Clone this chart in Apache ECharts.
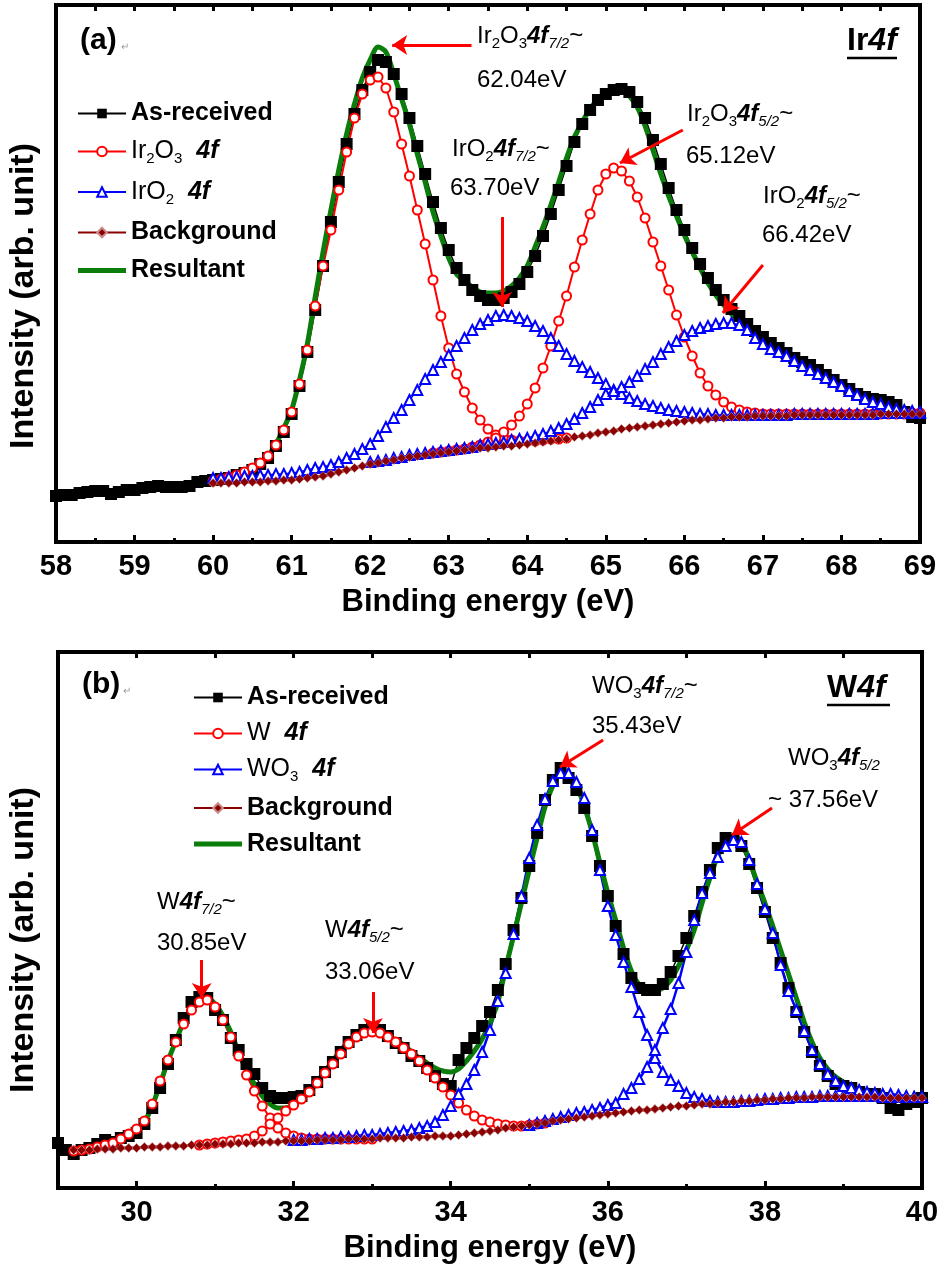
<!DOCTYPE html>
<html>
<head>
<meta charset="utf-8">
<title>XPS Ir 4f / W 4f</title>
<script src="https://cdn.jsdelivr.net/npm/echarts@6.0.0/dist/echarts.min.js"></script>
<style>
  html, body { margin: 0; padding: 0; background: #fff; }
  #chart { width: 944px; height: 1268px; }
</style>
</head>
<body>
<div id="chart"></div>
<script>
// ---------- (a) Ir 4f ----------
const energyA = [
  58.0, 58.1, 58.2, 58.3, 58.4, 58.5, 58.6, 58.7, 58.8, 58.9,
  59.0, 59.1, 59.2, 59.3, 59.4, 59.5, 59.6, 59.7, 59.8, 59.9,
  60.0, 60.1, 60.2, 60.3, 60.4, 60.5, 60.6, 60.7, 60.8, 60.9,
  61.0, 61.1, 61.2, 61.3, 61.4, 61.5, 61.6, 61.7, 61.8, 61.9,
  62.0, 62.1, 62.2, 62.3, 62.4, 62.5, 62.6, 62.7, 62.8, 62.9,
  63.0, 63.1, 63.2, 63.3, 63.4, 63.5, 63.6, 63.7, 63.8, 63.9,
  64.0, 64.1, 64.2, 64.3, 64.4, 64.5, 64.6, 64.7, 64.8, 64.9,
  65.0, 65.1, 65.2, 65.3, 65.4, 65.5, 65.6, 65.7, 65.8, 65.9,
  66.0, 66.1, 66.2, 66.3, 66.4, 66.5, 66.6, 66.7, 66.8, 66.9,
  67.0, 67.1, 67.2, 67.3, 67.4, 67.5, 67.6, 67.7, 67.8, 67.9,
  68.0, 68.1, 68.2, 68.3, 68.4, 68.5, 68.6, 68.7, 68.8, 68.9, 69.0
];
// from 58.0
const asReceivedA = [
  46, 47, 47, 49, 50, 51, 51, 48, 50, 52,
  52, 54, 55, 56, 55, 55, 55, 56, 60, 61,
  62, 63, 64, 67, 69, 72, 78, 84, 96, 110,
  128, 156, 190, 232, 276, 320, 360, 398, 428, 452,
  470, 482, 480, 468, 448, 424, 396, 368, 340, 314,
  292, 274, 262, 252, 246, 242, 242, 244, 250, 258,
  270, 286, 306, 328, 352, 376, 400, 418, 432, 442,
  448, 452, 453, 450, 440, 424, 402, 378, 354, 332,
  312, 294, 278, 264, 252, 242, 233, 226, 218, 211,
  205, 199, 194, 189, 184, 180, 177, 172, 167, 162,
  157, 153, 148, 145, 143, 142, 140, 137, 130, 125, 124
];
// from 58.0
const resultantA = [
  47, 48, 48, 50, 51, 53, 52, 49, 51, 52,
  53, 54, 56, 57, 56, 56, 55, 56, 61, 62,
  63, 64, 66, 68, 71, 75, 80, 86, 98, 114,
  132, 162, 198, 245, 290, 332, 372, 408, 438, 464,
  482, 495, 490, 468, 443, 418, 388, 360, 330, 306,
  284, 268, 261, 255, 250, 249, 249, 251, 256, 264,
  276, 295, 315, 337, 360, 384, 405, 420, 433, 443,
  450, 453, 452, 446, 435, 416, 392, 368, 346, 326,
  307, 290, 274, 259, 247, 237, 228, 221, 213, 206,
  200, 195, 190, 186, 181, 177, 172, 167, 163, 158,
  154, 150, 145, 141, 138, 136, 134, 133, 131, 130, 129
];
// from 60.0
const backgroundA = [
  59, 59, 59, 59, 60, 60, 60, 61, 61, 62,
  62, 63, 64, 65, 66, 68, 70, 72, 74, 76,
  78, 79, 81, 82, 84, 85, 86, 87, 88, 89,
  90, 91, 92, 93, 94, 94, 95, 96, 96, 97,
  98, 99, 100, 101, 102, 103, 105, 106, 107, 109,
  110, 111, 113, 114, 115, 116, 117, 118, 119, 120,
  121, 122, 122, 123, 124, 124, 125, 125, 125, 126,
  126, 126, 126, 126, 127, 127, 127, 127, 127, 127,
  127, 127, 127, 127, 127, 128, 128, 128, 128, 128, 128
];
// Ir2O3 4f7/2, from 60.0
const ir2o3A1 = [
  61, 63, 65, 67, 70, 74, 79, 86, 97, 112,
  130, 158, 192, 236, 276, 312, 352, 390, 424, 448,
  462, 465, 454, 430, 398, 366, 332, 298, 262, 226,
  194, 168, 150, 134, 122, 113, 107, 104, 102, 101,
  101, 101, 102, 103, 103, 104
];
// Ir2O3 4f5/2, from 62.8
const ir2o3A2 = [
  89, 90,
  91, 92, 93, 95, 97, 100, 104, 110, 117, 126,
  138, 154, 174, 196, 221, 246, 275, 302, 328, 352,
  368, 374, 371, 361, 345, 324, 300, 276, 252, 227,
  205, 186, 169, 156, 147, 140, 135, 132, 130, 129,
  128, 128, 128, 128, 128, 128, 128, 128, 128, 128,
  128, 128, 128, 128, 128, 128, 128, 128, 128, 129, 129
];
// IrO2 4f7/2, from 60.0
const iro2A1 = [
  64, 64, 65, 65, 66, 66, 67, 67, 68, 68,
  69, 70, 72, 74, 75, 77, 80, 84, 88, 93,
  98, 106, 115, 124, 132, 142, 152, 163, 172, 180,
  187, 196, 204, 212, 218, 222, 226, 227, 226, 224,
  221, 216, 211, 204, 196, 188, 181, 175, 170, 164,
  158, 152, 148, 144, 141, 138, 136, 134, 132, 131,
  130, 129, 128, 128, 127, 127, 127, 127, 127, 127,
  127, 127, 127, 127, 128, 128, 128, 128, 128, 128,
  128, 128, 128, 128, 128, 129, 129, 129, 129, 129, 129
];
// IrO2 4f5/2, from 62.0
const iro2A2 = [
  80, 81, 82, 84, 85, 87, 88, 89, 90, 91,
  92, 93, 94, 95, 97, 98, 99, 100, 102, 103,
  104, 106, 108, 111, 114, 118, 123, 129, 135, 142,
  148, 151, 155, 160, 166, 173, 180, 188, 195, 201,
  207, 211, 214, 216, 218, 219, 219, 217, 212, 204,
  198, 193, 190, 186, 181, 176, 172, 168, 164, 160,
  156, 151, 147, 143, 140, 138, 135, 133, 132, 131, 130
];

// ---------- (b) W 4f ----------
const energyB = [
  29.0, 29.1, 29.2, 29.3, 29.4, 29.5, 29.6, 29.7, 29.8, 29.9,
  30.0, 30.1, 30.2, 30.3, 30.4, 30.5, 30.6, 30.7, 30.8, 30.9,
  31.0, 31.1, 31.2, 31.3, 31.4, 31.5, 31.6, 31.7, 31.8, 31.9,
  32.0, 32.1, 32.2, 32.3, 32.4, 32.5, 32.6, 32.7, 32.8, 32.9,
  33.0, 33.1, 33.2, 33.3, 33.4, 33.5, 33.6, 33.7, 33.8, 33.9,
  34.0, 34.1, 34.2, 34.3, 34.4, 34.5, 34.6, 34.7, 34.8, 34.9,
  35.0, 35.1, 35.2, 35.3, 35.4, 35.5, 35.6, 35.7, 35.8, 35.9,
  36.0, 36.1, 36.2, 36.3, 36.4, 36.5, 36.6, 36.7, 36.8, 36.9,
  37.0, 37.1, 37.2, 37.3, 37.4, 37.5, 37.6, 37.7, 37.8, 37.9,
  38.0, 38.1, 38.2, 38.3, 38.4, 38.5, 38.6, 38.7, 38.8, 38.9,
  39.0, 39.1, 39.2, 39.3, 39.4, 39.5, 39.6, 39.7, 39.8, 39.9, 40.0
];
// from 29.0
const asReceivedB = [
  45, 38, 34, 38, 40, 44, 48, 46, 50, 52,
  55, 64, 80, 100, 124, 148, 170, 186, 191, 190,
  178, 168, 150, 138, 124, 114, 100, 92, 90, 90,
  91, 92, 98, 106, 116, 126, 136, 146, 153, 158,
  160, 158, 152, 145, 140, 132, 127, 120, 112, 104,
  102, 128, 140, 150, 162, 176, 198, 224, 258, 290,
  322, 355, 388, 408, 420, 410, 398, 380, 352, 322,
  292, 262, 234, 210, 200, 198, 198, 204, 216, 232,
  250, 272, 296, 318, 340, 350, 348, 342, 324, 300,
  276, 250, 225, 200, 176, 156, 136, 122, 112, 104,
  102, 100, 96, 94, 94, 90, 80, 78, 84, 86, 90
];
// from 29.0
const resultantB = [
  45, 40, 36, 38, 40, 41, 41, 43, 47, 52,
  58, 66, 82, 104, 127, 147, 166, 180, 188, 190,
  184, 172, 156, 136, 119, 104, 92, 84, 80, 80,
  83, 89, 96, 106, 117, 127, 138, 146, 152, 155,
  156, 155, 152, 148, 143, 136, 130, 125, 120, 117,
  116, 119, 127, 137, 149, 165, 186, 220, 252, 285,
  318, 350, 381, 402, 414, 414, 404, 382, 356, 325,
  295, 268, 240, 217, 203, 197, 197, 200, 208, 222,
  238, 258, 285, 310, 332, 346, 351, 347, 328, 306,
  285, 262, 238, 214, 190, 166, 146, 130, 119, 111,
  106, 101, 98, 96, 94, 92, 91, 90, 90, 91, 93
];
// from 29.2
const backgroundB = [
  38, 38, 38, 39, 39, 39, 40, 40,
  40, 41, 41, 41, 42, 42, 42, 43, 43, 43,
  44, 44, 44, 45, 45, 45, 46, 46, 46, 47,
  47, 47, 47, 48, 48, 48, 48, 49, 49, 49,
  49, 50, 50, 50, 50, 51, 51, 51, 52, 52,
  52, 53, 54, 55, 56, 57, 58, 60, 61, 62,
  63, 64, 65, 67, 68, 69, 70, 71, 72, 73,
  74, 75, 76, 77, 78, 78, 79, 80, 81, 82,
  82, 83, 84, 84, 85, 86, 86, 87, 87, 88,
  88, 89, 89, 90, 90, 90, 91, 91, 91, 91,
  91, 91, 91, 91, 91, 90, 90, 90, 90, 90, 90
];
// W 4f7/2, from 29.2
const wB1 = [
  37, 38, 39, 41, 43, 45, 49, 54,
  59, 67, 84, 107, 128, 146, 164, 178, 186, 188,
  181, 168, 151, 132, 113, 97, 82, 70, 60, 55,
  52, 50, 49, 49, 49, 49, 49, 49, 49, 49, 49
];
// W 4f5/2, from 30.8
const wB2 = [
  43, 44,
  45, 46, 47, 48, 49, 52, 57, 64, 70, 77,
  83, 89, 96, 105, 115, 124, 134, 144, 151, 155,
  156, 155, 151, 146, 140, 134, 127, 118, 110, 101,
  93, 85, 78, 72, 68, 66, 64, 63, 62, 62,
  63, 64, 65
];
// WO3 4f7/2, from 32.0
const wo3B1 = [
  48, 48, 49, 49, 50, 50, 51, 51, 52, 53,
  53, 54, 55, 56, 57, 58, 60, 62, 66, 73,
  82, 94, 104, 118, 136, 158, 187, 215, 254, 292,
  330, 363, 389, 407, 415, 415, 406, 390, 358, 318,
  282, 253, 226, 201, 176, 153, 130, 116, 108, 102,
  95, 91, 89, 87, 86, 86, 86, 87, 87, 88,
  89, 89, 90, 90, 91, 91, 91, 92, 92, 92,
  92, 92, 92, 92, 92, 91, 91, 91, 91, 91, 91
];
// WO3 4f5/2, from 35.0
const wo3B2 = [
  63, 65, 67, 69, 71, 73, 75, 76, 78, 80,
  83, 85, 94, 100, 109, 121, 138, 160, 179, 205,
  236, 268, 295, 315, 331, 342, 348, 346, 328, 304,
  279, 255, 223, 197, 178, 157, 138, 124, 114, 107,
  102, 100, 98, 96, 95, 94, 94, 93, 92, 91, 91
];

// pair y values with energies starting at `start`
function pairs(xs, ys, start) {
  const i0 = xs.indexOf(start);
  return ys.map((y, i) => [xs[i0 + i], y]);
}

const FONT = '"Liberation Sans", Arial, Helvetica, sans-serif';
const RED = '#ff0000';
const BLUE = '#0000ff';
const BG = '#8b0000';
const GREEN = '#0b7d0b';

// arrows [fromX, fromY, toX, toY] in data units
const arrowsA = [
  [63.29, 497, 62.28, 497],
  [63.68, 325, 63.68, 235],
  [65.98, 412, 65.18, 379],
  [67.00, 277, 66.49, 229]
];
const arrowsB = [
  [30.83, 228, 30.83, 190],
  [33.01, 196, 33.01, 155],
  [35.94, 448, 35.39, 421],
  [38.09, 380, 37.58, 353]
];

const richAnno = {
  r: { fontSize: 24, fontFamily: FONT, lineHeight: 30, color: '#000' },
  s: { fontSize: 15, fontFamily: FONT, lineHeight: 15, verticalAlign: 'bottom', color: '#000' },
  b: { fontSize: 24, fontFamily: FONT, fontWeight: 'bold', fontStyle: 'italic', lineHeight: 30, color: '#000' },
  bs: { fontSize: 15, fontFamily: FONT, fontStyle: 'italic', lineHeight: 15, verticalAlign: 'bottom', color: '#000' }
};

const legendRich = {
  t: { fontSize: 25, fontFamily: FONT, fontWeight: 'bold', lineHeight: 30, color: '#000' },
  r: { fontSize: 25, fontFamily: FONT, lineHeight: 30, color: '#000' },
  s: { fontSize: 15, fontFamily: FONT, lineHeight: 15, verticalAlign: 'bottom', color: '#000' },
  i: { fontSize: 25, fontFamily: FONT, fontWeight: 'bold', fontStyle: 'italic', lineHeight: 30, color: '#000' }
};
const legendLabels = {
  'As-received': '{t|As-received}',
  'Ir2O3 4f': '{r|Ir}{s|2}{r|O}{s|3}{r|  }{i|4f}',
  'IrO2 4f': '{r|IrO}{s|2}{r|  }{i|4f}',
  'W 4f': '{r|W  }{i|4f}',
  'WO3 4f': '{r|WO}{s|3}{r|  }{i|4f}',
  'Background': '{t|Background}',
  'Resultant': '{t|Resultant}'
};
// plain thick bar for the fit line in the legend (tiny end marks keep the box 12 high)
const resultantIcon = 'path://M0,0L0.01,0ZM0,3.5L48,3.5L48,8.5L0,8.5ZM0,12L0.01,12Z';

function annoText(x, y, text) {
  return {
    type: 'text', x: x, y: y, silent: true,
    style: { text: text, rich: richAnno, align: 'left', verticalAlign: 'middle',
             textAlign: 'left', textVerticalAlign: 'middle' }
  };
}
function plainText(x, y, text, font, fill) {
  return {
    type: 'text', x: x, y: y, silent: true,
    style: { text: text, font: font, fill: fill || '#000', align: 'left', verticalAlign: 'middle',
             textAlign: 'left', textVerticalAlign: 'middle' }
  };
}
function yName(y) {
  return {
    type: 'text', x: 24, y: y, rotation: Math.PI / 2, silent: true,
    style: { text: 'Intensity (arb. unit)', font: 'bold 34px ' + FONT, fill: '#000',
             align: 'center', verticalAlign: 'middle', textAlign: 'center', textVerticalAlign: 'middle' }
  };
}
function panelTitle(x, y, head) {
  return {
    type: 'text', x: x, y: y, silent: true,
    style: { text: '{b|' + head + '}{bi|4f}', align: 'left', verticalAlign: 'middle',
             textAlign: 'left', textVerticalAlign: 'middle',
             rich: { b: { fontSize: 32, fontWeight: 'bold', fontFamily: FONT, color: '#000' },
                     bi: { fontSize: 32, fontWeight: 'bold', fontStyle: 'italic', fontFamily: FONT, color: '#000' } } }
  };
}
function underline(x1, x2, y) {
  return { type: 'line', silent: true, shape: { x1: x1, y1: y, x2: x2, y2: y },
           style: { stroke: '#000', lineWidth: 2.5 } };
}

function asReceived(data, xi, yi) {
  return {
    name: 'As-received', type: 'line', xAxisIndex: xi, yAxisIndex: yi, data: data,
    symbol: 'rect', symbolSize: 12, showAllSymbol: true,
    itemStyle: { color: '#000' }, lineStyle: { color: '#000', width: 1.5 }
  };
}
function redComp(name, data, xi, yi) {
  return {
    name: name, type: 'line', xAxisIndex: xi, yAxisIndex: yi, data: data,
    symbol: 'emptyCircle', symbolSize: 9, showAllSymbol: true,
    itemStyle: { color: RED, borderWidth: 1.2 }, lineStyle: { color: RED, width: 2 }
  };
}
function blueComp(name, data, xi, yi, lw) {
  return {
    name: name, type: 'line', xAxisIndex: xi, yAxisIndex: yi, data: data,
    symbol: 'emptyTriangle', symbolSize: 10, showAllSymbol: true,
    itemStyle: { color: BLUE, borderWidth: 1 }, lineStyle: { color: BLUE, width: lw }
  };
}
function background(data, xi, yi) {
  return {
    name: 'Background', type: 'line', xAxisIndex: xi, yAxisIndex: yi, data: data,
    symbol: 'diamond', symbolSize: 9, showAllSymbol: true,
    itemStyle: { color: BG, borderColor: '#c98a8a', borderWidth: 0.6 },
    lineStyle: { color: BG, width: 3 }
  };
}
function resultant(data, xi, yi, arrows) {
  return {
    name: 'Resultant', type: 'line', xAxisIndex: xi, yAxisIndex: yi, data: data,
    symbol: 'none', showSymbol: false, smooth: 0.3,
    itemStyle: { color: GREEN }, lineStyle: { color: GREEN, width: 5 },
    markLine: {
      silent: true, animation: false,
      symbol: ['none', 'arrow'], symbolSize: 15,
      lineStyle: { color: RED, width: 3, type: 'solid' },
      label: { show: false },
      emphasis: { disabled: true },
      data: arrows.map(a => [{ coord: [a[0], a[1]] }, { coord: [a[2], a[3]] }])
    }
  };
}

const tickLine = { color: '#000', width: 3 };
const frameLine = { show: true, onZero: false, lineStyle: { color: '#000', width: 4 } };
const labelStyle = { fontSize: 29, fontWeight: 'bold', fontFamily: FONT, color: '#000', margin: 10 };
const nameStyle = { fontSize: 31, fontWeight: 'bold', fontFamily: FONT, color: '#000' };

const chart = echarts.init(document.getElementById('chart'));
chart.setOption({
  animation: false,
  backgroundColor: '#fff',
  grid: [
    { left: 56, top: 5, right: 24, height: 537, containLabel: false,
      show: true, borderColor: '#000', borderWidth: 4, backgroundColor: 'transparent' },
    { left: 58, top: 652, right: 22, height: 536, containLabel: false,
      show: true, borderColor: '#000', borderWidth: 4, backgroundColor: 'transparent' }
  ],
  xAxis: [
    { gridIndex: 0, type: 'value', position: 'bottom', min: 58, max: 69, interval: 1,
      name: 'Binding energy (eV)', nameLocation: 'middle', nameGap: 45, nameTextStyle: nameStyle,
      axisLine: frameLine,
      axisTick: { show: true, inside: true, length: 7, lineStyle: tickLine },
      minorTick: { show: true, splitNumber: 2, length: 4, lineStyle: tickLine },
      axisLabel: labelStyle, splitLine: { show: false } },
    { gridIndex: 0, type: 'value', position: 'top', min: 58, max: 69, interval: 0.5,
      axisLine: frameLine,
      axisTick: { show: true, inside: true, length: 6, lineStyle: tickLine },
      axisLabel: { show: false }, splitLine: { show: false } },
    { gridIndex: 1, type: 'value', position: 'bottom', min: 29, max: 40, interval: 1,
      name: 'Binding energy (eV)', nameLocation: 'middle', nameGap: 45, nameTextStyle: nameStyle,
      axisLine: frameLine,
      axisTick: { show: true, inside: true, length: 7, lineStyle: tickLine,
                  customValues: [30, 32, 34, 36, 38, 40] },
      axisLabel: Object.assign({}, labelStyle, {
        customValues: [30, 32, 34, 36, 38, 40],
        formatter: v => (v % 2 === 0 ? String(v) : '') }),
      splitLine: { show: false } },
    { gridIndex: 1, type: 'value', position: 'bottom', min: 29, max: 40, interval: 1,
      axisLine: { show: false, onZero: false },
      axisTick: { show: true, inside: true, length: 4, lineStyle: tickLine,
                  customValues: [31, 33, 35, 37, 39] },
      axisLabel: { show: false }, splitLine: { show: false } },
    { gridIndex: 1, type: 'value', position: 'top', min: 29, max: 40, interval: 1,
      axisLine: frameLine,
      axisTick: { show: true, inside: true, length: 6, lineStyle: tickLine },
      axisLabel: { show: false }, splitLine: { show: false } }
  ],
  yAxis: [
    { gridIndex: 0, type: 'value', min: 0, max: 537,
      axisLine: { show: false }, axisTick: { show: false },
      axisLabel: { show: false }, splitLine: { show: false } },
    { gridIndex: 1, type: 'value', min: 0, max: 536,
      axisLine: { show: false }, axisTick: { show: false },
      axisLabel: { show: false }, splitLine: { show: false } }
  ],
  legend: [
    { orient: 'vertical', left: 77, top: 101, padding: 0, itemGap: 13,
      itemWidth: 48, itemHeight: 12, selectedMode: false,
      data: ['As-received', 'Ir2O3 4f', 'IrO2 4f', 'Background',
             { name: 'Resultant', icon: resultantIcon, itemStyle: { color: GREEN } }],
      formatter: n => legendLabels[n], textStyle: { rich: legendRich } },
    { orient: 'vertical', left: 193, top: 685, padding: 0, itemGap: 11,
      itemWidth: 48, itemHeight: 12, selectedMode: false,
      data: ['As-received', 'W 4f', 'WO3 4f', 'Background',
             { name: 'Resultant', icon: resultantIcon, itemStyle: { color: GREEN } }],
      formatter: n => legendLabels[n], textStyle: { rich: legendRich } }
  ],
  series: [
    asReceived(pairs(energyA, asReceivedA, 58.0), 0, 0),
    redComp('Ir2O3 4f', pairs(energyA, ir2o3A1, 60.0), 0, 0),
    redComp('Ir2O3 4f', pairs(energyA, ir2o3A2, 62.8), 0, 0),
    blueComp('IrO2 4f', pairs(energyA, iro2A1, 60.0), 0, 0, 1.5),
    blueComp('IrO2 4f', pairs(energyA, iro2A2, 62.0), 0, 0, 1.5),
    background(pairs(energyA, backgroundA, 60.0), 0, 0),
    resultant(pairs(energyA, resultantA, 58.0), 0, 0, arrowsA),

    asReceived(pairs(energyB, asReceivedB, 29.0), 2, 1),
    redComp('W 4f', pairs(energyB, wB1, 29.2), 2, 1),
    redComp('W 4f', pairs(energyB, wB2, 30.8), 2, 1),
    blueComp('WO3 4f', pairs(energyB, wo3B1, 32.0), 2, 1, 2.5),
    blueComp('WO3 4f', pairs(energyB, wo3B2, 35.0), 2, 1, 2.5),
    background(pairs(energyB, backgroundB, 29.2), 2, 1),
    resultant(pairs(energyB, resultantB, 29.0), 2, 1, arrowsB)
  ],
  graphic: [
    yName(296),
    yName(940),
    // panel (a)
    plainText(80, 41, '(a)', 'bold 30px ' + FONT),
    plainText(121, 47, '\u21b5', '10px ' + FONT, '#999'),
    panelTitle(847, 41, 'Ir'),
    underline(847, 897, 58),
    annoText(477, 36, '{r|Ir}{s|2}{r|O}{s|3}{b|4f}{bs|7/2}{r|~}'),
    annoText(477, 80, '{r|62.04eV}'),
    annoText(452, 149, '{r|IrO}{s|2}{b|4f}{bs|7/2}{r|~}'),
    annoText(450, 188, '{r|63.70eV}'),
    annoText(687, 114, '{r|Ir}{s|2}{r|O}{s|3}{b|4f}{bs|5/2}{r|~}'),
    annoText(686, 156, '{r|65.12eV}'),
    annoText(763, 196, '{r|IrO}{s|2}{b|4f}{bs|5/2}{r|~}'),
    annoText(762, 235, '{r|66.42eV}'),
    // panel (b)
    plainText(82, 685, '(b)', 'bold 30px ' + FONT),
    plainText(123, 691, '\u21b5', '10px ' + FONT, '#999'),
    panelTitle(827, 688, 'W'),
    underline(827, 890, 705),
    annoText(157, 902, '{r|W}{b|4f}{bs|7/2}{r|~}'),
    annoText(157, 943, '{r|30.85eV}'),
    annoText(325, 930, '{r|W}{b|4f}{bs|5/2}{r|~}'),
    annoText(325, 972, '{r|33.06eV}'),
    annoText(592, 686, '{r|WO}{s|3}{b|4f}{bs|7/2}{r|~}'),
    annoText(592, 726, '{r|35.43eV}'),
    annoText(788, 758, '{r|WO}{s|3}{b|4f}{bs|5/2}'),
    annoText(768, 800, '{r|~ 37.56eV}')
  ]
});
</script>
</body>
</html>
